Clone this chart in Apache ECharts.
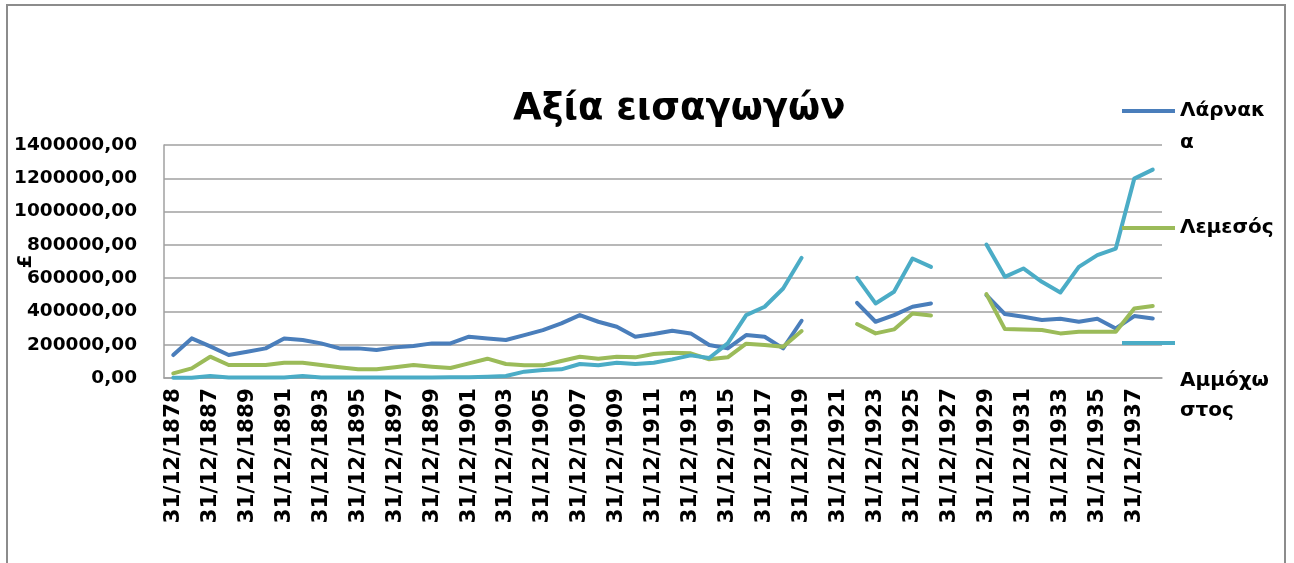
<!DOCTYPE html>
<html>
<head>
<meta charset="utf-8">
<title>Αξία εισαγωγών</title>
<script src="https://cdn.jsdelivr.net/npm/echarts@6/dist/echarts.min.js"></script>
<style>
  html, body { margin: 0; padding: 0; background: #fff; }
  #main { width: 1294px; height: 563px; }
</style>
</head>
<body>
<div id="main"></div>
<script>
// years of the category axis (index 1 is hidden between 1878 and 1887)
var years = [1878, 1886, 1887, 1888, 1889, 1890, 1891, 1892, 1893, 1894,
             1895, 1896, 1897, 1898, 1899, 1900, 1901, 1902, 1903, 1904,
             1905, 1906, 1907, 1908, 1909, 1910, 1911, 1912, 1913, 1914,
             1915, 1916, 1917, 1918, 1919, 1920, 1921, 1922, 1923, 1924,
             1925, 1926, 1927, 1928, 1929, 1930, 1931, 1932, 1933, 1934,
             1935, 1936, 1937, 1938];
var categories = years.map(function (y) { return '31/12/' + y; });

var larnaka = [138000, 238000, 190000, 138000, 158000, 178000, 238000, 228000, 208000, 178000,
               178000, 168000, 184000, 192000, 208000, 208000, 248000, 238000, 228000, 258000,
               288000, 328000, 378000, 338000, 308000, 248000, 264000, 284000, 268000, 198000,
               178000, 258000, 248000, 178000, 344000, null, null, 452000, 338000, 378000,
               428000, 448000, null, null, 498000, 384000, 368000, 348000, 356000, 338000,
               356000, 298000, 372000, 358000];
var lemesos = [28000, 58000, 128000, 78000, 78000, 78000, 92000, 92000, 78000, 64000,
               52000, 52000, 64000, 78000, 68000, 60000, 88000, 116000, 84000, 76000,
               76000, 102000, 128000, 116000, 128000, 124000, 144000, 152000, 148000, 112000,
               124000, 206000, 198000, 188000, 282000, null, null, 324000, 268000, 292000,
               388000, 376000, null, null, 504000, 294000, 292000, 288000, 268000, 278000,
               278000, 278000, 418000, 432000];
var ammochostos = [2000, 2000, 12000, 3000, 3000, 3000, 3000, 12000, 3000, 3000,
                   3000, 3000, 3000, 3000, 3000, 4000, 4000, 8000, 12000, 38000,
                   48000, 52000, 84000, 76000, 92000, 84000, 92000, 112000, 136000, 120000,
                   208000, 378000, 428000, 538000, 722000, null, null, 602000, 448000, 518000,
                   718000, 668000, null, null, 802000, 608000, 658000, 578000, 514000, 668000,
                   738000, 778000, 1198000, 1252000];

var font = 'DejaVu Sans';
var gridColor = '#a0a0a0';

function lineSeries(name, data, color) {
    return {
        name: name,
        type: 'line',
        data: data,
        showSymbol: false,
        connectNulls: false,
        lineStyle: { color: color, width: 4, cap: 'round', join: 'round' },
        itemStyle: { color: color }
    };
}

// Excel puts the legend line next to the first text line, so a spacer
// line of height `lead` pushes the label down relative to the icon
function legendBox(name, label, top, lead, lineH) {
    return {
        data: [name],
        left: 1122,
        top: top,
        padding: 0,
        icon: 'rect',
        itemWidth: 53,
        itemHeight: 4,
        itemGap: 0,
        formatter: function () {
            var lines = label.split('\n').map(function (s) { return '{t|' + s + '}'; });
            return (lead > 0 ? '{s| }\n' : '') + lines.join('\n');
        },
        textStyle: {
            rich: {
                s: { lineHeight: lead, fontSize: 2 },
                t: { fontFamily: font, fontWeight: 'bold', fontSize: 20, color: '#000', lineHeight: lineH }
            }
        }
    };
}

var option = {
    backgroundColor: '#fff',
    animation: false,
    title: {
        text: 'Αξία εισαγωγών',
        left: 508,
        top: 86,
        textStyle: { fontFamily: font, fontWeight: 'bold', fontSize: 37, color: '#000' }
    },
    legend: [
        legendBox('Λάρνακα', 'Λάρνακ\nα', 78, 32, 32),
        legendBox('Λεμεσός', 'Λεμεσός', 218, 0, 32),
        legendBox('Αμμόχωστος', 'Αμμόχω\nστος', 312, 106, 30)
    ],
    grid: { left: 164, right: 132, top: 145, bottom: 185, outerBoundsMode: 'none', containLabel: false },
    xAxis: {
        type: 'category',
        data: categories,
        boundaryGap: true,
        axisLine: { lineStyle: { color: gridColor, width: 1.5 } },
        axisTick: { show: false },
        axisLabel: {
            interval: 1,
            rotate: 90,
            margin: 10,
            fontFamily: font, fontWeight: 'bold', fontSize: 21.5, color: '#000'
        }
    },
    yAxis: {
        type: 'value',
        min: 0,
        max: 1400000,
        interval: 200000,
        name: '£',
        nameLocation: 'middle',
        nameRotate: 90,
        nameGap: 128,
        nameMoveOverlap: false,
        nameTextStyle: { fontFamily: font, fontWeight: 'bold', fontSize: 20, color: '#000' },
        axisLine: { show: true, lineStyle: { color: gridColor, width: 1.5 } },
        axisTick: { show: false },
        splitLine: { lineStyle: { color: gridColor, width: 1.5 } },
        axisLabel: {
            margin: 27,
            formatter: function (v) { return v.toFixed(2).replace('.', ','); },
            fontFamily: font, fontWeight: 'bold', fontSize: 18.5, color: '#000'
        }
    },
    graphic: [{
        type: 'rect',
        shape: { x: 7, y: 5, width: 1278, height: 620 },
        style: { fill: 'none', stroke: '#8c8c8c', lineWidth: 2 },
        silent: true
    }],
    series: [
        lineSeries('Λάρνακα', larnaka, '#4a7ebb'),
        lineSeries('Λεμεσός', lemesos, '#9bbb59'),
        lineSeries('Αμμόχωστος', ammochostos, '#4bacc6')
    ]
};

var myChart = echarts.init(document.getElementById('main'));
myChart.setOption(option);
</script>
</body>
</html>
